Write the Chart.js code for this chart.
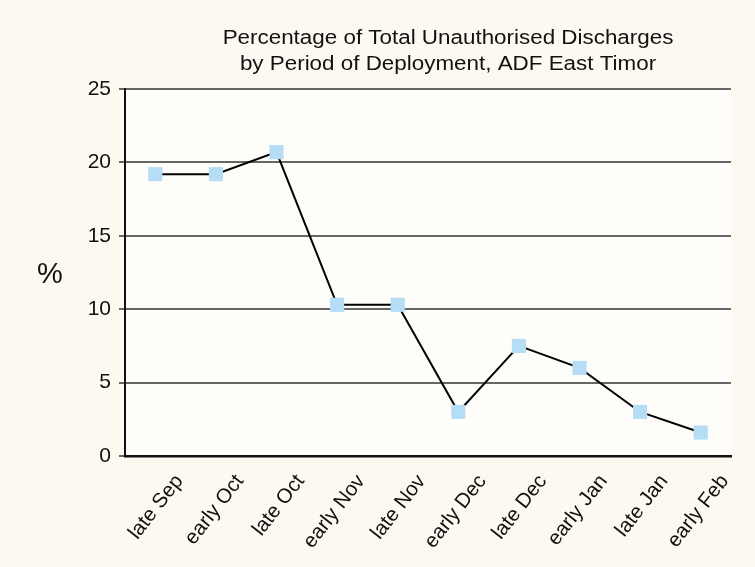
<!DOCTYPE html>
<html>
<head>
<meta charset="utf-8">
<title>Unauthorised Discharges</title>
<script src="https://cdn.jsdelivr.net/npm/chart.js@4/dist/chart.umd.min.js"></script>
<style>
  html, body { margin: 0; padding: 0; background: #fcf9f0; }
  #wrap { width: 755px; height: 567px; position: relative; }
</style>
</head>
<body>
<div id="wrap"><canvas id="chart" width="755" height="567"></canvas></div>
<script>
// Periods of deployment (x axis)
const periods = [
  "late Sep", "early Oct", "late Oct", "early Nov", "late Nov",
  "early Dec", "late Dec", "early Jan", "late Jan", "early Feb"
];
// Percentage of total unauthorised discharges
const percentages = [19.2, 19.2, 20.7, 10.3, 10.3, 3.0, 7.5, 6.0, 3.0, 1.6];
const yTicks = [0, 5, 10, 15, 20, 25];
const titleLines = [
  "Percentage of Total Unauthorised Discharges",
  "by Period of Deployment, ADF East Timor"
];
const yLabel = "%";

document.addEventListener("DOMContentLoaded", () => {
  const FONT = "'Liberation Sans', Arial, sans-serif";

  // paints the cream page and the lighter plot area, plus title and "%"
  const decorPlugin = {
    id: "decor",
    beforeDraw(chart) {
      const { ctx, chartArea } = chart;
      ctx.save();
      ctx.fillStyle = "#fcf9f0";
      ctx.fillRect(0, 0, chart.width, chart.height);
      ctx.fillStyle = "#fefdf9";
      ctx.fillRect(chartArea.left, chartArea.top,
        chartArea.right - chartArea.left, chartArea.bottom - chartArea.top);
      ctx.restore();
    },
    afterDraw(chart) {
      const { ctx } = chart;
      ctx.save();
      ctx.fillStyle = "#111";
      ctx.textAlign = "center";
      ctx.textBaseline = "alphabetic";
      // title font in the original is a touch wider than Liberation Sans
      ctx.save();
      ctx.translate(448, 0);
      ctx.scale(1.12, 1);
      ctx.font = "20px " + FONT;
      titleLines.forEach((line, i) => ctx.fillText(line, 0, 44 + i * 26));
      ctx.restore();
      ctx.textBaseline = "middle";
      ctx.font = "29px " + FONT;
      ctx.fillText(yLabel, 50, 275);
      ctx.restore();
    }
  };

  new Chart(document.getElementById("chart"), {
    type: "line",
    data: {
      labels: periods,
      datasets: [{
        data: percentages,
        borderColor: "#000",
        borderWidth: 2,
        pointStyle: "rect",
        pointRadius: 10,
        pointHoverRadius: 10,
        pointBackgroundColor: "#b5ddf5",
        pointBorderWidth: 0,
        tension: 0
      }]
    },
    options: {
      responsive: false,
      animation: false,
      layout: { padding: { top: 89, right: 24, left: 0, bottom: 0 } },
      plugins: {
        legend: { display: false },
        tooltip: { enabled: false },
        title: { display: false }
      },
      scales: {
        x: {
          offset: true,
          grid: { display: false, drawTicks: false },
          border: { color: "#111", width: 2.5 },
          ticks: {
            color: "#111",
            font: { family: FONT, size: 20.5 },
            maxRotation: 52,
            minRotation: 52,
            labelOffset: 24,
            padding: 14
          },
          afterFit(scale) { scale.height = 111; }
        },
        y: {
          min: 0,
          max: 25,
          afterBuildTicks(scale) { scale.ticks = yTicks.map((v) => ({ value: v })); },
          grid: { color: "#666", lineWidth: 2, tickLength: 6 },
          border: { color: "#111", width: 2 },
          ticks: {
            color: "#111",
            font: { family: FONT, size: 21 },
            padding: 8
          },
          afterFit(scale) { scale.width = 125; }
        }
      }
    },
    plugins: [decorPlugin]
  });
});
</script>
</body>
</html>
